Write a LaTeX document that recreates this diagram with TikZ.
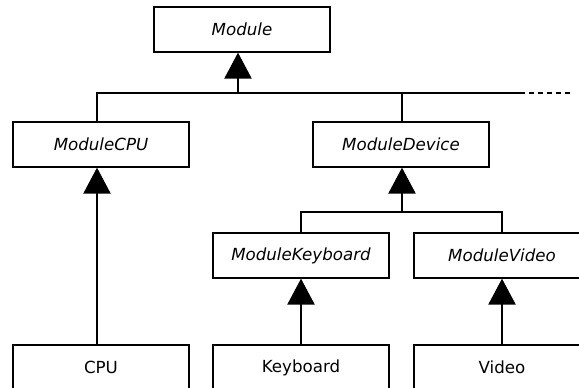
\documentclass[tikz,border=0pt]{standalone}
\usepackage{fontspec}
\setmainfont{DejaVu Sans}
\usetikzlibrary{arrows.meta}
\begin{document}
\begin{tikzpicture}[x=0.75pt,y=-0.75pt,
  cls/.style={draw, line width=1pt, fill=white, minimum width=132pt, minimum height=33.75pt, inner sep=0pt, font=\fontsize{12.5}{15}\selectfont},
  abs/.style={cls, font=\fontsize{12.5}{15}\selectfont\itshape},
  wire/.style={line width=1pt},
  inh/.style={wire, -{Triangle[width=20.5pt,length=19.5pt]}}]
\clip (0,0) rectangle (579,388);
\fill[white] (0,0) rectangle (579,388);
% classes
\node[abs] (module) at (242,29.5) {Module};
\node[abs] (mcpu) at (101,144.5) {ModuleCPU};
\node[abs] (mdev) at (401,144.5) {ModuleDevice};
\node[abs] (mkey) at (301,255.5) {ModuleKeyboard};
\node[abs] (mvid) at (502,255.5) {ModuleVideo};
\node[cls] (cpu) at (101,367.5) {CPU};
\node[cls] (key) at (301,367.5) {Keyboard};
\node[cls] (vid) at (502,367.5) {Video};
% bus coordinates
\coordinate (b1l) at (97,93);
\coordinate (b1m) at (238,93);
\coordinate (b1r) at (520,93);
\coordinate (b1e) at (570,93);
\coordinate (b2c) at (402,212);
% top level
\draw[wire] (mcpu.north -| b1l) -- (b1l) -- (b1r);
\draw[line width=1.6pt, dash pattern=on 3.75pt off 3pt] (b1r) -- (b1e);
\draw[inh] (b1m) -- (b1m |- module.south);
\draw[wire] (mdev.north -| b2c) -- (b2c |- b1l);
% cpu
\draw[inh] (cpu.north -| b1l) -- (mcpu.south -| b1l);
% device
\draw[wire] (mkey.north) -- (mkey.north |- b2c) -- (mvid.north |- b2c) -- (mvid.north);
\draw[inh] (b2c) -- (b2c |- mdev.south);
% leaves
\draw[inh] (key.north) -- (mkey.south);
\draw[inh] (vid.north) -- (mvid.south);
\end{tikzpicture}
\end{document}
